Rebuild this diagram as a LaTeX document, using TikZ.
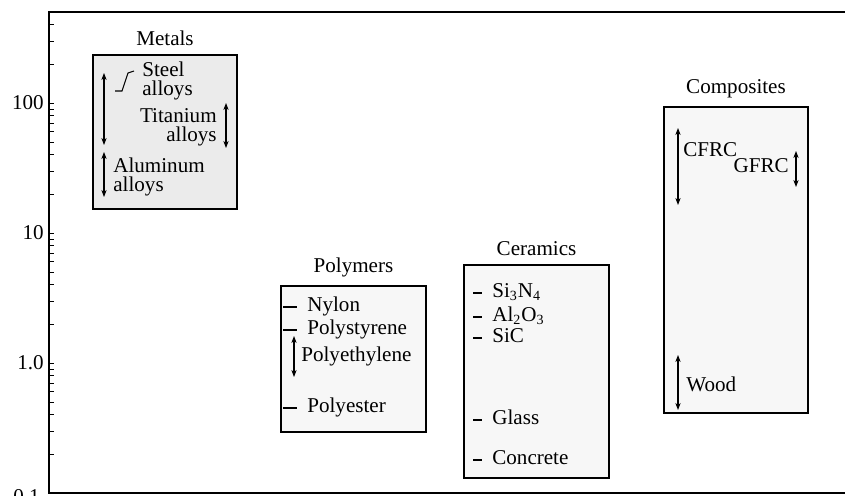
\documentclass[tikz,border=0pt]{standalone}
\usepackage{fontspec}
\setmainfont{Liberation Serif}
\usetikzlibrary{arrows.meta}

\begin{document}
\begin{tikzpicture}[x=0.02cm, y=0.02cm, font=\fontsize{12}{11}\selectfont,
  matbox/.style={draw, semithick, fill=black!3},
  twoway/.style={{Stealth[length=4pt,width=3pt]}-{Stealth[length=4pt,width=3pt]}, semithick},
  lbl/.style={inner sep=0pt, anchor=mid west},
  ylbl/.style={inner sep=0pt, anchor=east},
  grouplbl/.style={above=1.5pt}]
\useasboundingbox (-49,-2) rectangle (796,493);

% axes and log ticks
\draw[thick] (796,0) -- (0,0) -- (0,481) -- (796,481);
\foreach \d/\n in {0/9,1/9,2/9,3/4}
  \foreach \k in {1,...,\n}
    \draw (0,{130*(\d+log10(\k))}) -- ++(5,0);

\node[ylbl] (l100) at (-5,390) {100};
\node[ylbl] (l10) at (-5,260) {10};
\node[ylbl] (l1) at (-5,130) {1.0};
\node[ylbl, anchor=north east] (l01) at (-9,4) {0.1};

% Metals
\draw[matbox, fill=black!8] (44,284) rectangle (188,438);
\node[grouplbl] (metals) at (116,438) {Metals};
\draw[twoway] (55,420) -- (55,348);
\draw[twoway] (55,341) -- (55,296);
\draw[twoway] (177,390) -- (177,345);
\draw[semithick] (66,402) -- (73,402) -- (79,420) -- (85,422);
\node[inner sep=0pt, anchor=west, align=left] (steel) at (93,412) {Steel\\alloys};
\node[inner sep=0pt, anchor=east, align=right] (titan) at (168,366) {Titanium\\alloys};
\node[inner sep=0pt, anchor=west, align=left] (alu) at (64,316) {Aluminum\\alloys};

% Polymers
\draw[matbox] (232,61) rectangle (377,207);
\node[grouplbl] (polymers) at (304.5,207) {Polymers};
\foreach \y/\name/\txt in {186/nylon/Nylon, 163/pstyr/Polystyrene, 85/pest/Polyester}{
  \draw[thick] (234,\y) -- (248,\y);
  \node[lbl] (\name) at (258,\y) {\txt};
}
\draw[twoway] (245,157) -- (245,116);
\node[lbl] (peth) at (252,136) {Polyethylene};

% Ceramics
\draw[matbox] (415,15) rectangle (560,228);
\node[grouplbl] (ceramics) at (487.5,228) {Ceramics};
\foreach \y/\name/\txt in {200/sin/{Si\textsubscript{3}N\textsubscript{4}}, 176/alo/{Al\textsubscript{2}O\textsubscript{3}},
    155/sic/SiC, 73/glass/Glass, 33/concr/Concrete}{
  \draw[thick] (424,\y) -- (433,\y);
  \node[lbl] (\name) at (443,\y) {\txt};
}

% Composites
\draw[matbox] (615,80) rectangle (759,386);
\node[grouplbl] (composites) at (687,386) {Composites};
\draw[twoway] (629,365) -- (629,288);
\node[lbl] (cfrc) at (634,341) {CFRC};
\node[inner sep=0pt, anchor=mid east] (gfrc) at (740,325) {GFRC};
\draw[twoway] (747,342) -- (747,306);
\draw[twoway] (629,138) -- (629,83);
\node[lbl] (wood) at (637,106) {Wood};

\end{tikzpicture}
\end{document}
